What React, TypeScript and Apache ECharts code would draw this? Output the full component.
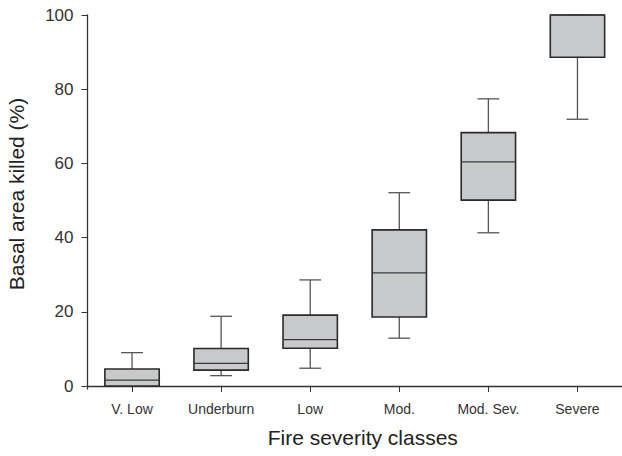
import React, { useEffect, useRef } from "react";
import * as echarts from "echarts";

const categories = ["V. Low", "Underburn", "Low", "Mod.", "Mod. Sev.", "Severe"];
const whiskerLow = [0, 2.8, 4.8, 12.9, 41.3, 71.9];
const q1 = [0, 4.3, 10.2, 18.6, 50.1, 88.6];
const medians = [1.6, 6.1, 12.5, 30.5, 60.4, 100];
const q3 = [4.6, 10.1, 19.1, 42.1, 68.3, 100];
const whiskerHigh = [9.0, 18.8, 28.6, 52.1, 77.4, 100];
const yTicks = [0, 20, 40, 60, 80, 100];

const FONT = "Liberation Sans, Arial, sans-serif";

export default function App() {
  const ref = useRef<HTMLDivElement>(null);
  useEffect(() => {
    if (!ref.current) return;
    const chart = echarts.init(ref.current, null, { renderer: "svg" });
    const data = categories.map((c, i) => [i, whiskerLow[i], q1[i], medians[i], q3[i], whiskerHigh[i]]);
    chart.setOption({
      animation: false,
      backgroundColor: "#ffffff",
      grid: { left: 87.5, top: 15, right: 0, bottom: 67, containLabel: false, outerBoundsMode: "none" },
      xAxis: {
        type: "category",
        data: categories,
        name: "Fire severity classes",
        nameLocation: "middle",
        nameGap: 38,
        nameTextStyle: { fontFamily: FONT, fontSize: 21, color: "#222", padding: [0, 0, 0, 16] },
        axisLine: { lineStyle: { color: "#333", width: 1.3 } },
        axisTick: { show: true, alignWithLabel: true, length: 6, lineStyle: { color: "#333" } },
        axisLabel: { fontFamily: FONT, fontSize: 14, color: "#333", margin: 13 },
        splitLine: { show: false },
      },
      yAxis: {
        type: "value",
        min: -0.8,
        max: 100,
        name: "Basal area killed (%)",
        nameLocation: "middle",
        nameGap: 61,
        nameTextStyle: { fontFamily: FONT, fontSize: 21, color: "#222", padding: [0, 0, 0, 16] },
        axisLine: { show: true, lineStyle: { color: "#333", width: 1.3 } },
        axisTick: { show: true, length: 6, lineStyle: { color: "#333" }, customValues: yTicks },
        axisLabel: { fontFamily: FONT, fontSize: 17, color: "#333", margin: 14, customValues: yTicks },
        splitLine: { show: false },
      },
      series: [
        {
          type: "custom",
          data,
          encode: { x: 0, y: [1, 2, 3, 4, 5] },
          renderItem: (params: any, api: any) => {
            const idx = api.value(0);
            const lo = api.coord([idx, api.value(1)]);
            const b1 = api.coord([idx, api.value(2)]);
            const md = api.coord([idx, api.value(3)]);
            const b3 = api.coord([idx, api.value(4)]);
            const hi = api.coord([idx, api.value(5)]);
            const band = api.size([1, 0])[0];
            const bw = band * 0.61;
            const cw = band * 0.245;
            const cx = lo[0];
            const whiskStyle = { stroke: "#555", lineWidth: 1.3 };
            return {
              type: "group",
              children: [
                { type: "line", shape: { x1: cx, y1: b3[1], x2: cx, y2: hi[1] }, style: whiskStyle },
                { type: "line", shape: { x1: cx - cw / 2, y1: hi[1], x2: cx + cw / 2, y2: hi[1] }, style: whiskStyle },
                { type: "line", shape: { x1: cx, y1: b1[1], x2: cx, y2: lo[1] }, style: whiskStyle },
                { type: "line", shape: { x1: cx - cw / 2, y1: lo[1], x2: cx + cw / 2, y2: lo[1] }, style: whiskStyle },
                {
                  type: "rect",
                  shape: { x: cx - bw / 2, y: b3[1], width: bw, height: b1[1] - b3[1] },
                  style: { fill: "#c8c9cb", stroke: "#2a2a2a", lineWidth: 1.6 },
                },
                { type: "line", shape: { x1: cx - bw / 2, y1: md[1], x2: cx + bw / 2, y2: md[1] }, style: { stroke: "#3a3a3a", lineWidth: 1.3 } },
              ],
            };
          },
        },
      ],
    });
    return () => chart.dispose();
  }, []);
  return <div ref={ref} style={{ width: 622, height: 456, position: "absolute", left: 0, top: 0 }} />;
}
